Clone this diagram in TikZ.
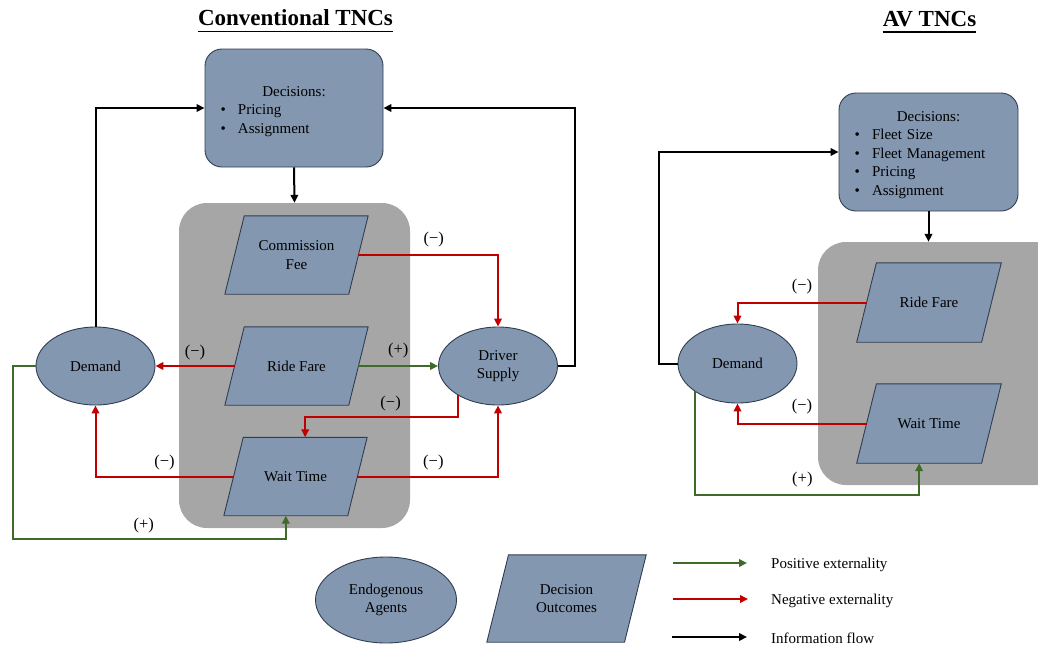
\documentclass[tikz,border=0pt]{standalone}
\usepackage{fontspec}
\setmainfont{Liberation Serif}
\usetikzlibrary{shapes.geometric,arrows.meta,calc,backgrounds}

\definecolor{nodeblue}{HTML}{8497B0}
\definecolor{nodeedge}{HTML}{2F3D52}
\definecolor{regiongray}{HTML}{A6A6A6}
\definecolor{negred}{HTML}{C00000}
\definecolor{posgreen}{HTML}{3F6B2A}

% One bullet line inside a decision box.
\newcommand{\decitem}[1]{\par\noindent\hspace*{15.5pt}\makebox[17.5pt][l]{\textbullet}#1}
% Title line of a decision box, lifted by #1.
\newcommand{\dectitle}[1]{\centerline{\rule{0pt}{#1}Decisions:}}
% Slanted outline behind an outcome node (#2 is half the slant).
\newcommand{\slantbox}[2]{\filldraw[outline] ($(#1.south west)+(-#2,0)$) -- ($(#1.south east)+(-#2,0)$)
  -- ($(#1.north east)+(#2,0)$) -- ($(#1.north west)+(#2,0)$) -- cycle;}

\begin{document}
\begin{tikzpicture}[x=1pt,y=-1pt,font=\fontsize{15}{18.5}\selectfont]
\useasboundingbox (0,0) rectangle (1038,648);

% This determines how the shapes will look.
\tikzstyle{outline}=[draw=nodeedge,fill=nodeblue,line width=0.9pt]
\tikzstyle{agent}=[ellipse,outline,minimum width=119,minimum height=78,align=center,inner sep=1pt]
\tikzstyle{outcome}=[rectangle,minimum width=123.5,minimum height=78,align=center,inner sep=1pt]
\tikzstyle{decbox}=[rectangle,rounded corners=17,outline,minimum height=118,text width=178,inner xsep=0pt]
\tikzstyle{region}=[rectangle,rounded corners=28,fill=regiongray]
\tikzstyle{headline}=[font=\fontsize{23}{26}\selectfont\bfseries,inner sep=0pt,anchor=base]

% This determines how the arrows will look.
\tikzstyle{infoflow}=[draw=black,line width=2pt,-{Triangle[length=8pt,width=7.5pt]}]
\tikzstyle{negflow}=[draw=negred,line width=2pt,-{Triangle[length=8pt,width=7.5pt]}]
\tikzstyle{posflow}=[draw=posgreen,line width=2pt,-{Triangle[length=8pt,width=7.5pt]}]
\tikzstyle{sign}=[text=black,above=4pt,inner sep=1pt,font=\fontsize{16.5}{18}\selectfont]

% This draws the titles.
\node[headline] (T1) at (295.5,25) {Conventional TNCs};
\draw[line width=1.6pt] ($(T1.base west)+(0,6.5)$) -- ($(T1.base east)+(0,6.5)$);
\node[headline] (T2) at (929.5,26) {AV TNCs};
\draw[line width=1.6pt] ($(T2.base west)+(0,6)$) -- ($(T2.base east)+(0,6)$);

% This draws the nodes.
\node[decbox] (Dec1) at (294,108) {\dectitle{16.5pt}\decitem{Pricing}\decitem{Assignment}};
\node[outcome] (CF) at (296.5,255) {Commission\\Fee};
\node[outcome] (RF) at (296.5,366) {Ride Fare};
\node[outcome] (WT) at (295.5,476.5) {Wait Time};
\node[agent] (D1) at (95.5,366) {Demand};
\node[agent] (DS) at (498,366) {Driver\\Supply};

\node[decbox,text width=179] (Dec2) at (928.5,152) {\dectitle{15.5pt}\decitem{Fleet Size}\decitem{Fleet Management}\decitem{Pricing}\decitem{Assignment}};
\node[outcome,minimum width=124.5,minimum height=79] (RF2) at (929,302.5) {Ride Fare};
\node[outcome,minimum width=124.5,minimum height=79] (WT2) at (929,423.5) {Wait Time};
\node[agent,minimum height=79] (D2) at (737.5,363.5) {Demand};

\node[agent,minimum width=141,minimum height=86] (LegA) at (386,600) {Endogenous\\Agents};
\node[outcome,minimum width=137.3,minimum height=87] (LegO) at (566.5,598.5) {Decision\\Outcomes};

% This draws the shaded groups and the slanted boxes behind the text.
\begin{scope}[on background layer]
\node[region,minimum width=231,minimum height=325] (G1) at (294.5,365.5) {};
\node[region,minimum width=244,minimum height=243] (G2) at (940,363.5) {};
\slantbox{CF}{9.7} \slantbox{RF}{9.7} \slantbox{WT}{9.7}
\slantbox{RF2}{9.85} \slantbox{WT2}{9.85}
\slantbox{LegO}{10.85}
\end{scope}

\coordinate (WTt) at ($(WT.north)+(9.7,0)$);
\coordinate (WTb) at ($(WT.south)+(-9.7,0)$);
\coordinate (WT2b) at ($(WT2.south)+(-9.85,0)$);

% This draws the conventional TNC loop.
\draw[infoflow] (Dec1.south) -- (G1.north);
\draw[infoflow] (D1.north) |- (Dec1.west);
\draw[infoflow] (DS.east) -- ++(17,0) |- (Dec1.east);
\draw[negflow] (CF.east) -| node[sign,pos=.27,yshift=2pt] {(−)} (DS.north);
\draw[negflow] (RF.west) -- node[sign,midway] {(−)} (D1.east);
\draw[posflow] (RF.east) -- node[sign,midway,yshift=2pt] {(+)} (DS.west);
\draw[negflow] (DS.216) -- ++(0,22) -| node[sign,pos=.22] {(−)} (WTt);
\draw[negflow] (WT.west) -| node[sign,pos=.25] {(−)} (D1.south);
\draw[negflow] (WT.east) -| node[sign,pos=.27] {(−)} (DS.south);
\draw[posflow] (D1.west) -- ++(-23,0) |- node[sign,pos=.74] {(+)} ($(WTb)+(0,23)$) -- (WTb);

% This draws the AV TNC loop.
\draw[infoflow] (Dec2.south) -- (Dec2.south |- G2.north);
\draw[infoflow] (D2.west) -- ++(-19,0) |- (Dec2.west);
\draw[negflow] (RF2.west) -| node[sign,pos=.25,yshift=2pt] {(−)} (D2.north);
\draw[negflow] (WT2.west) -| node[sign,pos=.25,yshift=3pt] {(−)} (D2.south);
\draw[posflow] (D2.213) |- node[sign,pos=.74,yshift=2pt] {(+)} ($(WT2b)+(0,32)$) -- (WT2b);

% This draws the legend.
\coordinate (LegP1) at (673,563); \coordinate (LegP2) at (747,563);
\coordinate (LegN1) at (673,599); \coordinate (LegN2) at (748,599);
\coordinate (LegI1) at (672,637); \coordinate (LegI2) at (747,637);
\draw[posflow] (LegP1) -- (LegP2);
\draw[negflow] (LegN1) -- (LegN2);
\draw[infoflow] (LegI1) -- (LegI2);
\node[anchor=west,inner sep=0pt] (LegPt) at (771,565) {Positive externality};
\node[anchor=west,inner sep=0pt] (LegNt) at (771,601) {Negative externality};
\node[anchor=west,inner sep=0pt] (LegIt) at (771,638) {Information flow};
\end{tikzpicture}
\end{document}
